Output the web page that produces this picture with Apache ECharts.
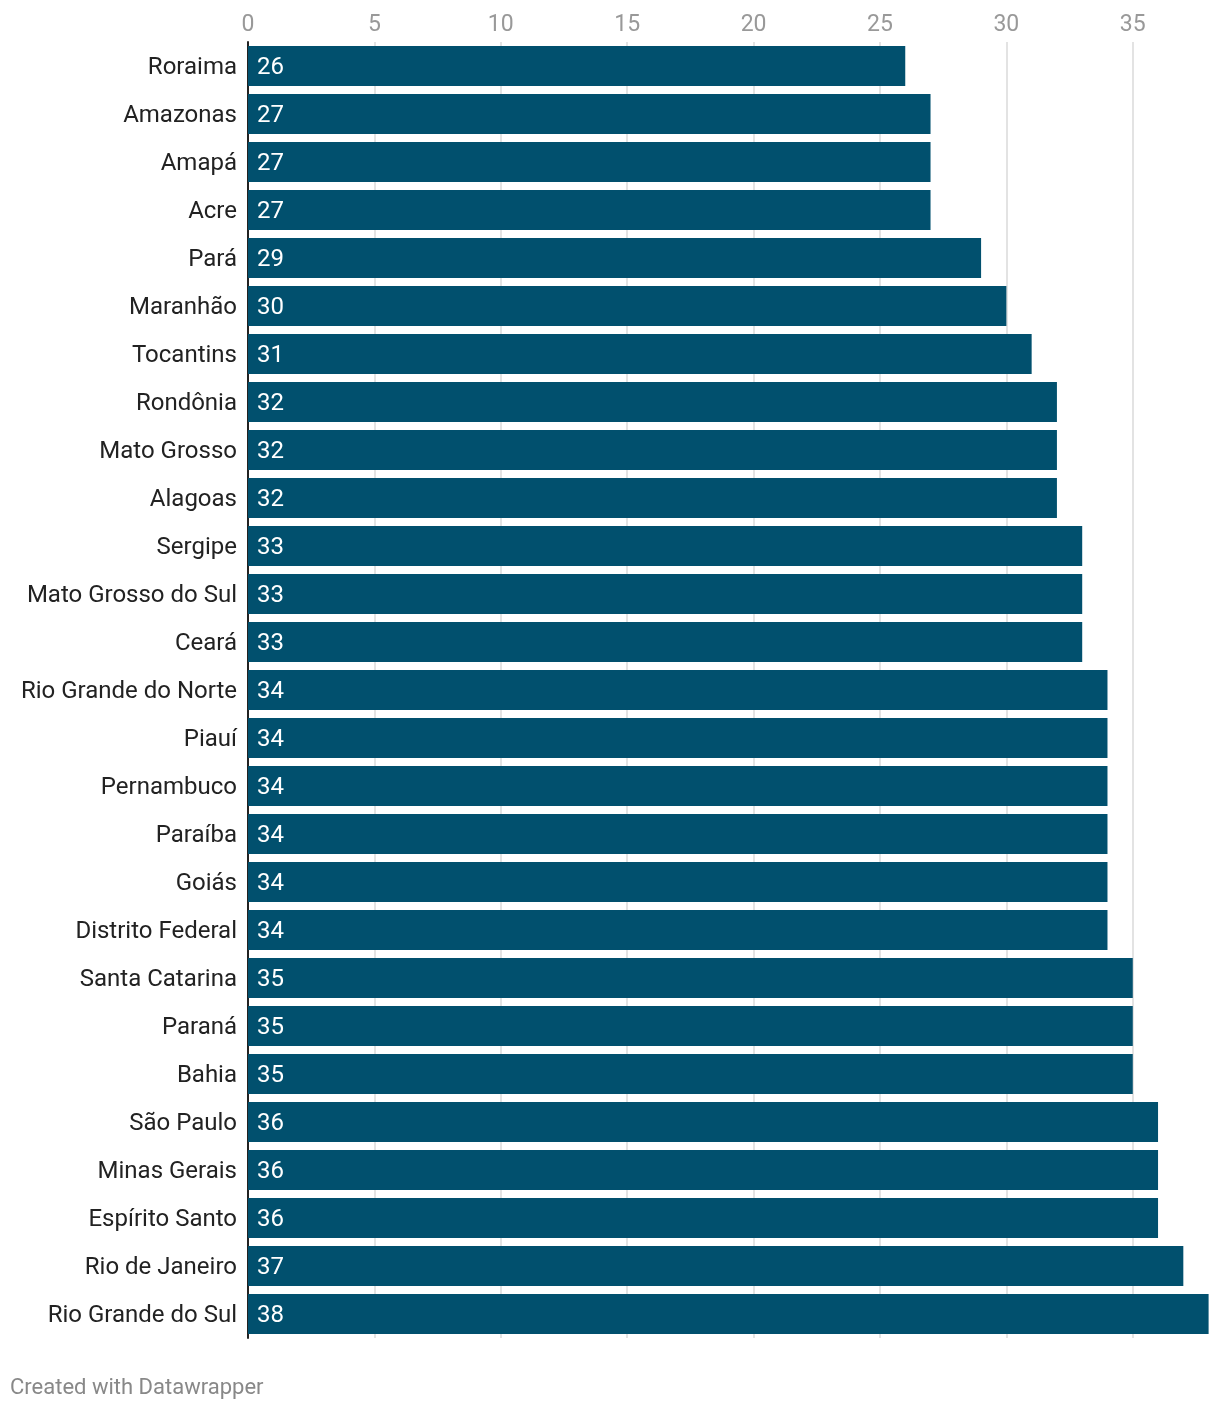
<!DOCTYPE html>
<html><head><meta charset="utf-8">
<script src="https://cdn.jsdelivr.net/npm/echarts@6/dist/echarts.min.js"></script>
<style>html,body{margin:0;padding:0;background:#fff}#c{width:1220px;height:1410px}</style>
</head><body><div id="c"></div>
<script>
const categories = ["Roraima","Amazonas","Amapá","Acre","Pará","Maranhão","Tocantins","Rondônia","Mato Grosso","Alagoas","Sergipe","Mato Grosso do Sul","Ceará","Rio Grande do Norte","Piauí","Pernambuco","Paraíba","Goiás","Distrito Federal","Santa Catarina","Paraná","Bahia","São Paulo","Minas Gerais","Espírito Santo","Rio de Janeiro","Rio Grande do Sul"];
const values = [26,27,27,27,29,30,31,32,32,32,33,33,33,34,34,34,34,34,34,35,35,35,36,36,36,37,38];
const chart = echarts.init(document.getElementById('c'));
chart.setOption({
  animation:false,
  textStyle:{fontFamily:'Roboto'},
  grid:{left:248,top:42,width:960.6,height:1296,containLabel:false},
  xAxis:{type:'value',position:'top',min:0,max:38,interval:5,
    axisLine:{show:false},axisTick:{show:false},
    axisLabel:{color:'#999',fontSize:23,margin:5,fontFamily:'Roboto',showMaxLabel:false},
    splitLine:{showMaxLine:false,lineStyle:{color:'#e3e3e3',width:2}}},
  yAxis:{type:'category',inverse:true,data:categories,
    axisLine:{show:true,lineStyle:{color:'#222',width:2}},axisTick:{show:false},
    axisLabel:{color:'#222',fontSize:24,margin:11,fontFamily:'Roboto',
      formatter:v=>'{a|'+v+'}',
      rich:{a:{color:'#222',fontSize:24,fontFamily:'Roboto',padding:[4,0,0,0]}}}},
  series:[{type:'bar',data:values,barCategoryGap:'16.67%',
    itemStyle:{color:'#01506e'},
    label:{show:true,position:'insideLeft',offset:[0,2],distance:9,color:'#fff',fontSize:24,fontFamily:'Roboto'}}],
  graphic:[{type:'text',left:10,top:1377,style:{text:'Created with Datawrapper',fill:'#888',font:'22px Roboto'}}]
});
</script></body></html>
